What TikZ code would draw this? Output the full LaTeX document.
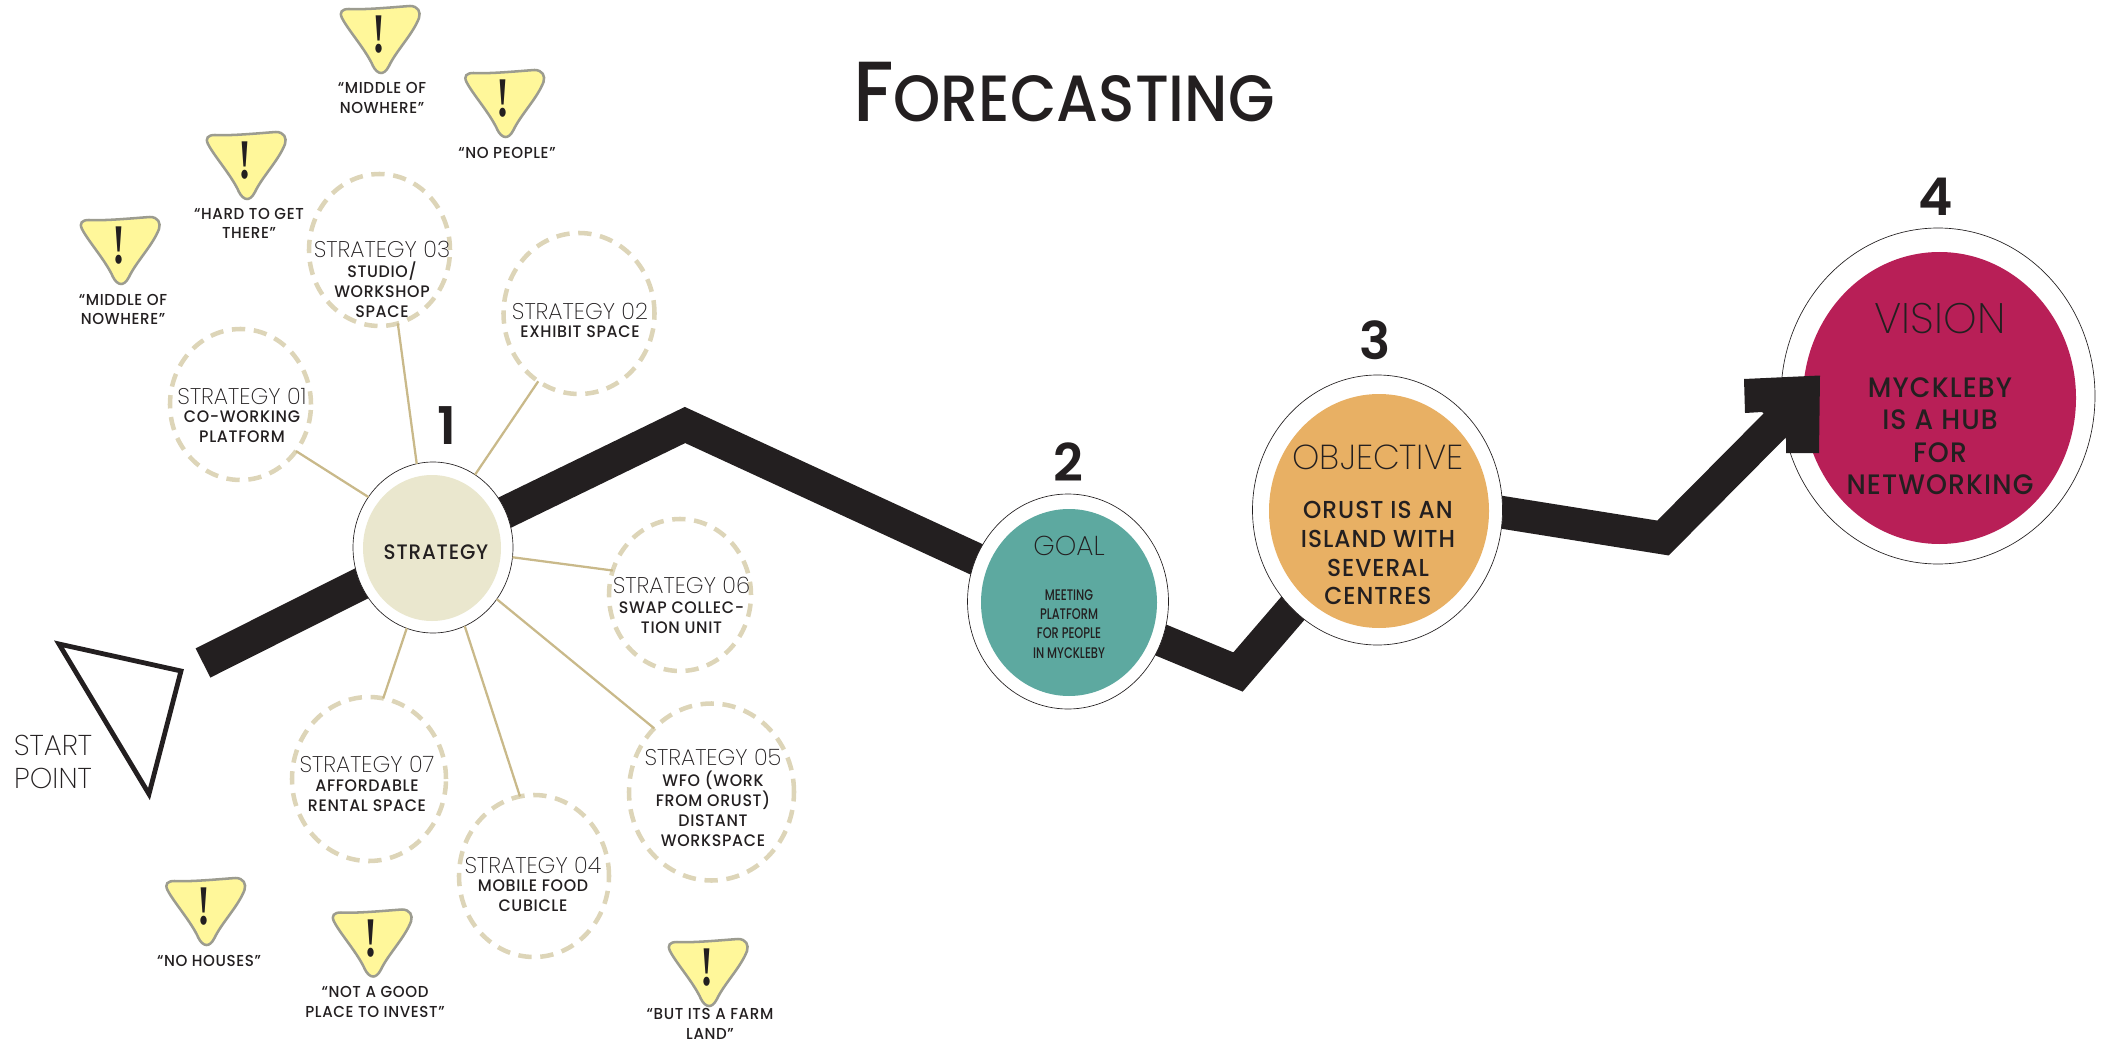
\documentclass[tikz,border=0pt]{standalone}
\usepackage{fontspec}
\usetikzlibrary{shapes.geometric}
\setmainfont{Poppins}
\newfontfamily\lightf[FakeStretch=1.0]{Poppins ExtraLight}
\newfontfamily\medf[FakeStretch=0.95,LetterSpace=4]{Poppins Medium}
\newfontfamily\medn[FakeStretch=0.74]{Poppins Medium}
\newfontfamily\bignf{Poppins SemiBold}
\newfontfamily\titlef[FakeStretch=0.92]{Poppins Medium}
\newfontfamily\excl[FakeStretch=0.7]{Liberation Serif Bold}
\definecolor{ink}{HTML}{231F20}
\definecolor{dashc}{HTML}{DDD5B8}
\definecolor{spoke}{HTML}{C9B98A}
\definecolor{stratc}{HTML}{EAE7CE}
\definecolor{goalc}{HTML}{5DA9A0}
\definecolor{objc}{HTML}{E8B064}
\definecolor{visc}{HTML}{B81F57}
\definecolor{warnc}{HTML}{FFF79A}
\definecolor{warnl}{HTML}{9C9C90}
\pgfdeclarelayer{lowest}
\pgfdeclarelayer{mid}
\pgfsetlayers{lowest,mid,main}
\tikzset{
  ell/.style={shape=ellipse,inner sep=0pt,outer sep=0pt},
  ring/.style={ell,draw=ink,line width=0.5pt,fill=white},
  core/.style={ell,draw=none},
  sbox/.style={ell,draw=dashc,line width=3.4pt,dash pattern=on 10pt off 6.5pt},
  spokeline/.style={draw=spoke,line width=1.7pt},
  route/.style={draw=ink,line width=24.5pt,line join=miter,miter limit=20},
  stext/.style={align=center,inner sep=0pt,text=ink},
  stitle/.style={font=\lightf\fontsize{17}{17}\selectfont,text=ink,inner sep=0pt},
  sbody/.style={stext,font=\medf\fontsize{12.5}{15}\selectfont},
  quote/.style={stext,font=\medf\fontsize{11.9}{14.5}\selectfont},
  bignum/.style={font=\bignf\fontsize{39}{39}\selectfont,text=ink,inner sep=0pt},
  warn/.pic={
    \draw[fill=warnc,draw=warnl,line width=1.9pt]
      (-31,3) .. controls (-15,4) and (15,1) .. (30,0)
      .. controls (38,0) and (41,6) .. (39,12)
      .. controls (33,28) and (16,45) .. (9,60)
      .. controls (6,66) and (3,67) .. (1,67)
      .. controls (-2,67) and (-5,64) .. (-7,60)
      .. controls (-14,44) and (-32,24) .. (-38,12)
      .. controls (-41,6) and (-38,3) .. (-31,3) -- cycle;
    \node[inner sep=0pt,text=ink,font=\excl\fontsize{42}{42}\selectfont] (-mark) at (-1,29) {!};
  }
}
\begin{document}
\begin{tikzpicture}[x=0.75pt,y=-0.75pt]
\path[use as bounding box] (0,0) rectangle (2107,1045);

% title
\node[inner sep=0pt,text=ink,anchor=base] (title) at (1064,122)
  {\titlef\fontsize{64}{64}\selectfont F\fontsize{49}{49}\selectfont ORECASTING};

% vision lies under the route
\begin{pgfonlayer}{lowest}
\node[ring,minimum width=314*0.75pt,minimum height=336*0.75pt] (vis) at (1938,396) {};
\node[core,fill=visc,minimum width=273*0.75pt,minimum height=292*0.75pt] (visin) at (1939.5,398) {};
\end{pgfonlayer}
\node[inner sep=0pt,text=ink,font=\lightf\fontsize{32}{32}\selectfont] (vist) at (1940,319) {VISION};
\node[stext,font=\medf\fontsize{21.1}{24.4}\selectfont] (visb) at (1940,436) {MYCKLEBY\\IS A HUB\\FOR\\NETWORKING};

% objective
\node[ring,minimum width=250*0.75pt,minimum height=270*0.75pt] (obj) at (1377.5,510) {};
\node[core,fill=objc,minimum width=220*0.75pt,minimum height=234*0.75pt] (objin) at (1379,511) {};
\node[inner sep=0pt,text=ink,font=\lightf\fontsize{26}{26}\selectfont] (objt) at (1378,457) {OBJECTIVE};
\node[stext,font=\medf\fontsize{18.4}{21.7}\selectfont] (objb) at (1378,553) {ORUST IS AN\\ISLAND WITH\\SEVERAL\\CENTRES};

% goal
\node[ring,minimum width=201*0.75pt,minimum height=215*0.75pt] (goal) at (1068,601.5) {};
\node[core,fill=goalc,minimum width=176*0.75pt,minimum height=187*0.75pt] (goalin) at (1069,602.5) {};
\node[inner sep=0pt,text=ink,font=\lightf\fontsize{20.5}{20.5}\selectfont] (goalt) at (1069,546) {GOAL};
\node[stext,font=\medn\fontsize{11.5}{14.4}\selectfont] (goalb) at (1069,624) {MEETING\\PLATFORM\\FOR PEOPLE\\IN MYCKLEBY};

% strategy hub
\node[ring,minimum width=160*0.75pt,minimum height=171*0.75pt] (st) at (433,547.5) {};
\node[core,fill=stratc,minimum width=138*0.75pt,minimum height=146*0.75pt] (stin) at (432,548) {};
\node[stext,font=\medf\fontsize{15.7}{15.7}\selectfont] (stt) at (436,552) {STRATEGY};

% numbers
\node[bignum] (n1) at (447,426) {1};
\node[bignum] (n2) at (1068,462) {2};
\node[bignum] (n3) at (1375,340) {3};
\node[bignum] (n4) at (1935.5,197) {4};

% route way points
\coordinate (start) at (203,663);
\coordinate (v1) at (685,425);
\coordinate (v2) at (1238,672);
\coordinate (o3) at (1400,496);
\coordinate (v3) at (1663,538);
\coordinate (headc) at (1800,400);

\begin{pgfonlayer}{mid}
\draw[route] (start) -- (st.center) -- (v1) -- (goal.center) -- (v2) -- (obj.center);
\draw[route] (o3) -- (v3) -- (headc);
\end{pgfonlayer}
\fill[ink] (1744,379) -- (1820,375.5) -- (1819,453) -- (1786,453) -- (1786,436) -- (1762,412) -- (1745,413) -- cycle;

% start point
\draw[ink,line width=3.6pt,line join=miter,miter limit=20] (59,644) -- (181,671) -- (149,794) -- cycle;
\node[inner sep=0pt,text=ink,align=center,font=\lightf\fontsize{21.5}{24.3}\selectfont] (startlabel) at (53,762) {START\\POINT};

% strategy satellites
\node[sbox,minimum width=141*0.75pt,minimum height=151*0.75pt] (s1) at (240.5,404.5) {};
\node[sbox,minimum width=151*0.75pt,minimum height=161*0.75pt] (s2) at (579,313.5) {};
\node[sbox,minimum width=141*0.75pt,minimum height=152*0.75pt] (s3) at (379.5,250) {};
\node[sbox,minimum width=150*0.75pt,minimum height=162*0.75pt] (s4) at (534,876) {};
\node[sbox,minimum width=165*0.75pt,minimum height=177*0.75pt] (s5) at (711.5,792) {};
\node[sbox,minimum width=142*0.75pt,minimum height=152*0.75pt] (s6) at (680,595) {};
\node[sbox,minimum width=154*0.75pt,minimum height=164*0.75pt] (s7) at (369,779) {};

\node[stitle] (s1t) at (242,396) {STRATEGY 01};
\node[sbody] (s1b) at (242,427) {CO-WORKING\\PLATFORM};
\node[stitle] (s2t) at (580,311) {STRATEGY 02};
\node[sbody] (s2b) at (580,332) {EXHIBIT SPACE};
\node[stitle] (s3t) at (382,249) {STRATEGY 03};
\node[sbody] (s3b) at (382,290) {STUDIO/\\WORKSHOP\\SPACE};
\node[stitle] (s4t) at (533,865) {STRATEGY 04};
\node[sbody] (s4b) at (533,896) {MOBILE FOOD\\CUBICLE};
\node[stitle] (s5t) at (713,757) {STRATEGY 05};
\node[sbody] (s5b) at (713,809) {WFO (WORK\\FROM ORUST)\\DISTANT\\WORKSPACE};
\node[stitle] (s6t) at (681.5,585) {STRATEGY 06};
\node[sbody] (s6b) at (681.5,618) {SWAP COLLEC-\\TION UNIT};
\node[stitle] (s7t) at (367,764) {STRATEGY 07};
\node[sbody] (s7b) at (367,796) {AFFORDABLE\\RENTAL SPACE};

% spokes
\draw[spokeline] (st.142) -- (s1.-40);
\draw[spokeline] (st.60) -- (s2.-121);
\draw[spokeline] (st.101) -- (s3.-76);
\draw[spokeline] (st.-68) -- (s4.100);
\draw[spokeline] (st.-39) -- (s5.132);
\draw[spokeline] (st.-7) -- (s6.160);
\draw[spokeline] (st.-108) -- (s7.80);

% warnings
\pic (w1) at (380,6) {warn};
\node[quote] (q1) at (382,98) {“MIDDLE OF\\NOWHERE”};
\pic (w2) at (504.5,70) {warn};
\node[quote] (q2) at (507,153) {“NO PEOPLE”};
\pic (w3) at (246,132) {warn};
\node[quote] (q3) at (249,223.5) {“HARD TO GET\\THERE”};
\pic (w4) at (120,217) {warn};
\node[quote] (q4) at (123,309.5) {“MIDDLE OF\\NOWHERE”};
\pic (w5) at (205.5,878) {warn};
\node[quote] (q5) at (209,961) {“NO HOUSES”};
\pic (w6) at (372,909.5) {warn};
\node[quote] (q6) at (375,1002) {“NOT A GOOD\\PLACE TO INVEST”};
\pic (w7) at (708,939) {warn};
\node[quote] (q7) at (710,1024) {“BUT ITS A FARM\\LAND”};
\end{tikzpicture}
\end{document}
